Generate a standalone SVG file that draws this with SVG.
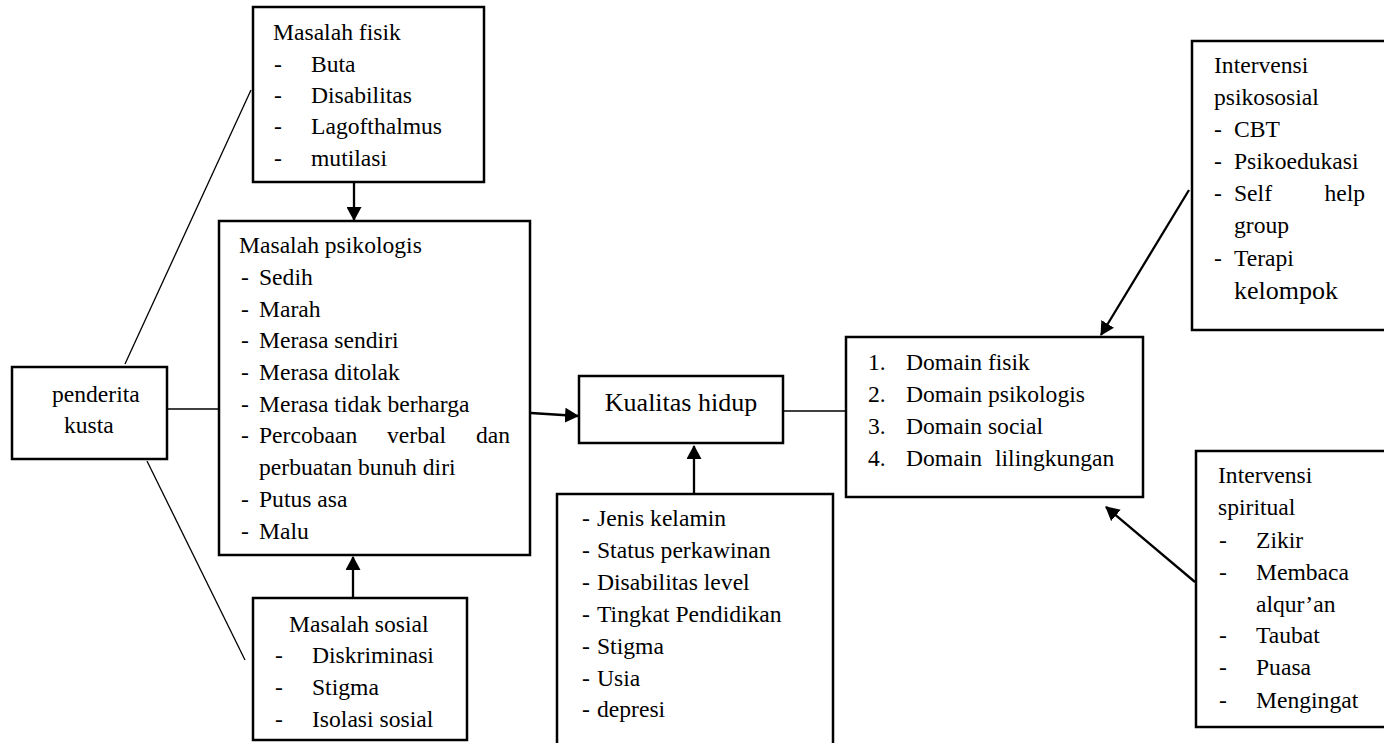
<svg xmlns="http://www.w3.org/2000/svg" width="1384" height="743" viewBox="0 0 1384 743">
<style>
.box{fill:#fff;stroke:#000;stroke-width:2.5}
.t{font-family:"Liberation Serif","Times New Roman",serif;font-size:23.6px;fill:#000}
.big{font-size:26px}
.thin{stroke:#000;stroke-width:1.3;fill:none}
.arr{stroke:#000;stroke-width:2.3;fill:none;marker-end:url(#ah)}
</style>
<defs>
<marker id="ah" markerUnits="userSpaceOnUse" viewBox="0 0 14 15" markerWidth="14" markerHeight="15" refX="13" refY="7.5" orient="auto">
<path d="M0,0 L14,7.5 L0,15 z" fill="#000"/>
</marker>
</defs>
<rect width="1384" height="743" fill="#fff"/>

<g id="connectors">
<line class="thin" x1="167" y1="409" x2="219" y2="409"/>
<line class="thin" x1="125" y1="364" x2="251" y2="90"/>
<line class="thin" x1="147" y1="461" x2="245" y2="660"/>
<line class="thin" x1="783" y1="411" x2="846" y2="411"/>
<line class="arr" x1="354" y1="183" x2="354" y2="220"/>
<line class="arr" x1="353" y1="597" x2="353" y2="557"/>
<line class="arr" x1="531" y1="413" x2="578" y2="416"/>
<line class="arr" x1="694" y1="493" x2="694" y2="446"/>
<line class="arr" x1="1189" y1="190" x2="1101" y2="335"/>
<line class="arr" x1="1195" y1="582" x2="1106" y2="507"/>
</g>

<g id="masalah-fisik">
<rect class="box" x="253" y="7" width="231" height="175"/>
<text class="t" x="273" y="40">Masalah fisik</text>
<text class="t" x="274" y="72">-</text><text class="t" x="311" y="72">Buta</text>
<text class="t" x="274" y="103">-</text><text class="t" x="311" y="103">Disabilitas</text>
<text class="t" x="274" y="134">-</text><text class="t" x="311" y="134">Lagofthalmus</text>
<text class="t" x="274" y="166">-</text><text class="t" x="311" y="166">mutilasi</text>
</g>

<g id="masalah-psikologis">
<rect class="box" x="219" y="221" width="311" height="334"/>
<text class="t" x="239" y="253">Masalah psikologis</text>
<text class="t" x="241" y="285">-</text><text class="t" x="259" y="285">Sedih</text>
<text class="t" x="241" y="317">-</text><text class="t" x="259" y="317">Marah</text>
<text class="t" x="241" y="348">-</text><text class="t" x="259" y="348">Merasa sendiri</text>
<text class="t" x="241" y="380">-</text><text class="t" x="259" y="380">Merasa ditolak</text>
<text class="t" x="241" y="412">-</text><text class="t" x="259" y="412">Merasa tidak berharga</text>
<text class="t" x="241" y="443">-</text><text class="t" y="443"><tspan x="259">Percobaan</tspan><tspan x="387">verbal</tspan><tspan x="476">dan</tspan></text>
<text class="t" x="259" y="475">perbuatan bunuh diri</text>
<text class="t" x="241" y="507">-</text><text class="t" x="259" y="507">Putus asa</text>
<text class="t" x="241" y="539">-</text><text class="t" x="259" y="539">Malu</text>
</g>

<g id="masalah-sosial">
<rect class="box" x="253" y="598" width="214" height="142"/>
<text class="t" x="289" y="632">Masalah sosial</text>
<text class="t" x="275" y="663">-</text><text class="t" x="312" y="663">Diskriminasi</text>
<text class="t" x="275" y="695">-</text><text class="t" x="312" y="695">Stigma</text>
<text class="t" x="275" y="727">-</text><text class="t" x="312" y="727">Isolasi sosial</text>
</g>

<g id="penderita-kusta">
<rect class="box" x="12" y="367" width="155" height="92"/>
<text class="t" x="52" y="402">penderita</text>
<text class="t" x="64" y="433">kusta</text>
</g>

<g id="kualitas-hidup">
<rect class="box" x="579" y="376" width="204" height="67"/>
<text class="t big" x="681" y="411" text-anchor="middle">Kualitas hidup</text>
</g>

<g id="faktor">
<rect class="box" x="557" y="494" width="276" height="270"/>
<text class="t" x="582" y="526">-</text><text class="t" x="597" y="526">Jenis kelamin</text>
<text class="t" x="582" y="558">-</text><text class="t" x="597" y="558">Status perkawinan</text>
<text class="t" x="582" y="590">-</text><text class="t" x="597" y="590">Disabilitas level</text>
<text class="t" x="582" y="622">-</text><text class="t" x="597" y="622">Tingkat Pendidikan</text>
<text class="t" x="582" y="654">-</text><text class="t" x="597" y="654">Stigma</text>
<text class="t" x="582" y="686">-</text><text class="t" x="597" y="686">Usia</text>
<text class="t" x="582" y="717">-</text><text class="t" x="597" y="717">depresi</text>
</g>

<g id="domain">
<rect class="box" x="846" y="337" width="297" height="160"/>
<text class="t" x="868" y="370">1.</text><text class="t" x="906" y="370">Domain fisik</text>
<text class="t" x="868" y="402">2.</text><text class="t" x="906" y="402">Domain psikologis</text>
<text class="t" x="868" y="434">3.</text><text class="t" x="906" y="434">Domain social</text>
<text class="t" x="868" y="466">4.</text><text class="t" y="466"><tspan x="906">Domain</tspan><tspan x="995">lilingkungan</tspan></text>
</g>

<g id="intervensi-psikososial">
<rect class="box" x="1192" y="41" width="210" height="289"/>
<text class="t" x="1214" y="73">Intervensi</text>
<text class="t" x="1214" y="105">psikososial</text>
<text class="t" x="1214" y="137">-</text><text class="t" x="1234" y="137">CBT</text>
<text class="t" x="1214" y="169">-</text><text class="t" x="1234" y="169">Psikoedukasi</text>
<text class="t" x="1214" y="201">-</text><text class="t" x="1234" y="201">Self</text><text class="t" x="1365" y="201" text-anchor="end">help</text>
<text class="t" x="1234" y="233">group</text>
<text class="t" x="1214" y="266">-</text><text class="t" x="1234" y="266">Terapi</text>
<text class="t big" x="1234" y="299">kelompok</text>
</g>

<g id="intervensi-spiritual">
<rect class="box" x="1196" y="451" width="210" height="276"/>
<text class="t" x="1218" y="483">Intervensi</text>
<text class="t" x="1218" y="515">spiritual</text>
<text class="t" x="1219" y="548">-</text><text class="t" x="1256" y="548">Zikir</text>
<text class="t" x="1219" y="580">-</text><text class="t" x="1256" y="580">Membaca</text>
<text class="t" x="1256" y="612">alqur’an</text>
<text class="t" x="1219" y="643">-</text><text class="t" x="1256" y="643">Taubat</text>
<text class="t" x="1219" y="675">-</text><text class="t" x="1256" y="675">Puasa</text>
<text class="t" x="1219" y="708">-</text><text class="t" x="1256" y="708">Mengingat</text>
</g>
</svg>
